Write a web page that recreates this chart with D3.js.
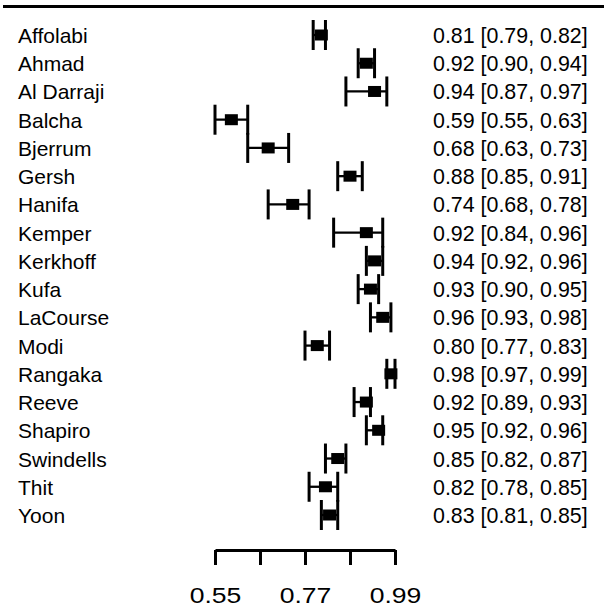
<!DOCTYPE html>
<html>
<head>
<meta charset="utf-8">
<script src="https://cdn.jsdelivr.net/npm/d3@7"></script>
<style>
  html, body { margin: 0; padding: 0; background: #fff; }
  svg { display: block; }
  text { font-family: "Liberation Sans", Arial, Helvetica, sans-serif; fill: #000; }
</style>
</head>
<body>
<svg id="chart" width="604" height="613"></svg>
<script>
const studies = ["Affolabi","Ahmad","Al Darraji","Balcha","Bjerrum","Gersh","Hanifa","Kemper","Kerkhoff","Kufa","LaCourse","Modi","Rangaka","Reeve","Shapiro","Swindells","Thit","Yoon"];
const estimates = [0.81,0.92,0.94,0.59,0.68,0.88,0.74,0.92,0.94,0.93,0.96,0.80,0.98,0.92,0.95,0.85,0.82,0.83];
const lowers    = [0.79,0.90,0.87,0.55,0.63,0.85,0.68,0.84,0.92,0.90,0.93,0.77,0.97,0.89,0.92,0.82,0.78,0.81];
const uppers    = [0.82,0.94,0.97,0.63,0.73,0.91,0.78,0.96,0.96,0.95,0.98,0.83,0.99,0.93,0.96,0.87,0.85,0.85];
const tickValues = [0.55,0.66,0.77,0.88,0.99];
const tickLabels = ["0.55","","0.77","","0.99"];

const rows = studies.map((s,i)=>({study:s, est:estimates[i], lo:lowers[i], hi:uppers[i]}));
const svg = d3.select("#chart");
const fmt = d3.format(".2f");

const x = d3.scaleLinear().domain([0.55,0.99]).range([215,395]);
const y = d3.scalePoint().domain(studies).range([35,515]);

// top rule
svg.append("line").attr("x1",3).attr("x2",604).attr("y1",6.5).attr("y2",6.5)
  .attr("stroke","#000").attr("stroke-width",3);

// study labels
svg.append("g").selectAll("text").data(rows).join("text")
  .attr("x",18).attr("y",d=>y(d.study)+8)
  .attr("font-size",21).text(d=>d.study);

// estimate labels
svg.append("g").selectAll("text").data(rows).join("text")
  .attr("x",433).attr("y",d=>y(d.study)+8)
  .attr("font-size",21.4).text(d=>`${fmt(d.est)} [${fmt(d.lo)}, ${fmt(d.hi)}]`);

// CI
const g = svg.append("g");
const cap = 15;
g.selectAll("line.ci").data(rows).join("line").attr("class","ci")
  .attr("x1",d=>x(d.lo)).attr("x2",d=>x(d.hi))
  .attr("y1",d=>y(d.study)).attr("y2",d=>y(d.study))
  .attr("stroke","#000").attr("stroke-width",2.3);
g.selectAll("line.lo").data(rows).join("line").attr("class","lo")
  .attr("x1",d=>x(d.lo)).attr("x2",d=>x(d.lo))
  .attr("y1",d=>y(d.study)-cap).attr("y2",d=>y(d.study)+cap)
  .attr("stroke","#000").attr("stroke-width",3);
g.selectAll("line.hi").data(rows).join("line").attr("class","hi")
  .attr("x1",d=>x(d.hi)).attr("x2",d=>x(d.hi))
  .attr("y1",d=>y(d.study)-cap).attr("y2",d=>y(d.study)+cap)
  .attr("stroke","#000").attr("stroke-width",3);
g.selectAll("rect").data(rows).join("rect")
  .attr("x",d=>x(d.est)-6.5).attr("y",d=>y(d.study)-5.5)
  .attr("width",13).attr("height",11).attr("fill","#000");

// axis
const axis = d3.axisBottom(x).tickValues(tickValues)
  .tickFormat((d,i)=>tickLabels[i]).tickSize(15).tickSizeOuter(0).tickPadding(22);
const ag = svg.append("g").attr("transform","translate(0,550)").call(axis);
ag.select(".domain").attr("stroke","#000").attr("stroke-width",3);
ag.selectAll(".tick line").attr("stroke","#000").attr("stroke-width",3);
ag.selectAll(".tick text").attr("font-size",22.5).attr("font-family",null)
  .attr("fill","#000").attr("transform","scale(1.18,1)");
</script>
</body>
</html>
